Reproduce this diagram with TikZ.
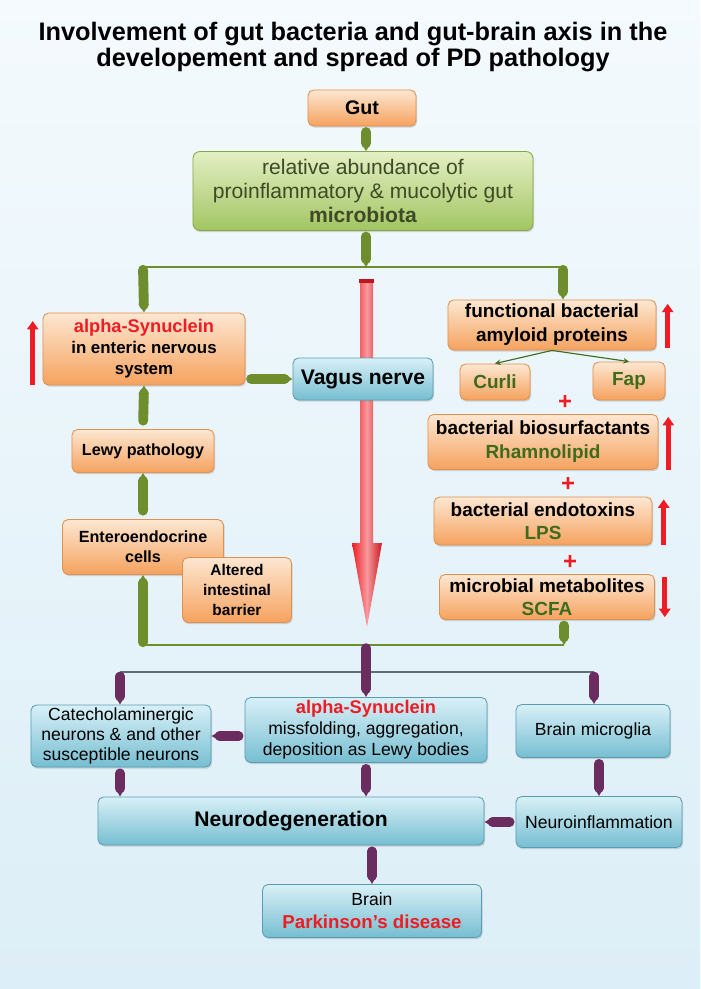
\documentclass[tikz,border=0pt]{standalone}
\usepackage{fontspec}
\setmainfont{Liberation Sans}
\usepackage{xcolor}
\usepackage{tikz}
\usetikzlibrary{arrows.meta,shadows,positioning}

\definecolor{otop}{HTML}{FDE7D2}
\definecolor{obot}{HTML}{F5A25E}
\definecolor{oedge}{HTML}{E0904F}
\definecolor{btop}{HTML}{D8F0F7}
\definecolor{bbot}{HTML}{76BED1}
\definecolor{bedge}{HTML}{5A9DB3}
\definecolor{grtop}{HTML}{E4EFC4}
\definecolor{grbot}{HTML}{A2C562}
\definecolor{gredge}{HTML}{86A843}
\definecolor{conngreen}{HTML}{6E8E2E}
\definecolor{connpurple}{HTML}{6B2D5F}
\definecolor{linegrey}{HTML}{5E6D78}
\definecolor{pdred}{HTML}{EE1C25}
\definecolor{txtgreen}{HTML}{3E6B1C}
\definecolor{txtolive}{HTML}{3F4A26}
\definecolor{bgtop}{HTML}{F4FAFD}
\definecolor{bgbot}{HTML}{DCEEF7}

\begin{document}
\begin{tikzpicture}[x=0.025cm, y=-0.025cm,
  obox/.style={draw=oedge, line width=0.6pt, rounded corners=4pt, top color=otop, bottom color=obot,
    drop shadow={opacity=0.3,shadow xshift=0.8pt,shadow yshift=-1.2pt}, align=center, inner sep=1pt,
    text=black, font=\bfseries\fontsize{11.5}{14.5}\selectfont},
  bbox/.style={draw=bedge, line width=0.6pt, rounded corners=4pt, top color=btop, bottom color=bbot,
    drop shadow={opacity=0.3,shadow xshift=0.8pt,shadow yshift=-1.2pt}, align=center, inner sep=1pt,
    text=black, font=\fontsize{12.5}{14.5}\selectfont},
  gbox/.style={draw=gredge, line width=0.6pt, rounded corners=5pt, top color=grtop, bottom color=grbot,
    drop shadow={opacity=0.3,shadow xshift=0.8pt,shadow yshift=-1.2pt}, align=center, inner sep=1pt,
    text=txtolive, font=\fontsize{15}{17}\selectfont},
  gcon/.style={draw=conngreen, line width=7pt, line cap=round, -{Triangle[length=6pt,width=7pt]}},
  pcon/.style={draw=connpurple, line width=6.5pt, line cap=round, -{Triangle[length=6pt,width=6.5pt]}},
  gline/.style={draw=conngreen, line width=1.8pt},
  pline/.style={draw=linegrey, line width=1.5pt},
  rarr/.style={draw=pdred, line width=3.5pt, -{Triangle[length=6pt,width=8pt]}},
  plus/.style={text=pdred, font=\bfseries\fontsize{17}{17}\selectfont, inner sep=0pt}]

\useasboundingbox (0,0) rectangle (700,989);
\fill[top color=bgtop, bottom color=bgbot] (0,0) rectangle (700,989);

\node[font=\bfseries\fontsize{18}{17.8}\selectfont, align=center] (title) at (353,47)
  {Involvement of gut bacteria and gut-brain axis in the\\ developement and spread of PD pathology};

% gut side
\node[obox, font=\bfseries\fontsize{14}{16}\selectfont, minimum width=2.7cm, minimum height=0.9cm] (gut) at (362,108) {Gut};
\node[gbox, minimum width=8.5cm, minimum height=1.975cm] (micro) at (363,191)
  {relative abundance of\\ proinflammatory \& mucolytic gut\\ \textbf{microbiota}};

\coordinate (jtop) at (366,267);
\coordinate (jl) at (143,267);
\coordinate (jr) at (563,267);
\coordinate (jbl) at (143,645);
\coordinate (jbr) at (564,645);
\coordinate (jbc) at (366,645);
\draw[gline] (jl) -- (jr);
\draw[gline] (jbl) -- (jbr);

% big arrow through the vagus nerve
\shade[left color=pdred, right color=pdred!85!black, middle color=pdred!45!white]
  (360,281) -- (373,281) -- (373,543) -- (382,543) -- (367,627) -- (352,543) -- (360,543) -- cycle;
\fill[pdred!80!black] (359,279) rectangle (374,283);

\node[obox, font=\bfseries\fontsize{12}{15}\selectfont, minimum width=5.05cm, minimum height=1.8cm] (asyn) at (144,349)
  {{\color{pdred}\fontsize{13}{15}\selectfont alpha-Synuclein}\\ in enteric nervous\\ system};
\node[bbox, font=\bfseries\fontsize{15}{17}\selectfont, minimum width=3.5cm, minimum height=1.05cm] (vagus) at (363,379) {Vagus nerve};
\node[obox, minimum width=3.55cm, minimum height=1.075cm] (lewy) at (143,451) {Lewy pathology};
\node[obox, minimum width=4.025cm, minimum height=1.375cm] (entero) at (143,547) {Enteroendocrine\\ cells};
\node[obox, font=\bfseries\fontsize{11}{14}\selectfont, minimum width=2.725cm, minimum height=1.625cm] (barrier) at (237,590) {Altered\\ intestinal\\ barrier};

% bacterial products
\node[obox, font=\bfseries\fontsize{13.5}{17}\selectfont, minimum width=5.2cm, minimum height=1.25cm] (func) at (552,325)
  {functional bacterial\\ amyloid proteins};
\node[obox, text=txtgreen, font=\bfseries\fontsize{13.5}{16}\selectfont, minimum width=1.75cm, minimum height=0.9cm] (curli) at (495,382) {Curli};
\node[obox, text=txtgreen, font=\bfseries\fontsize{13.5}{16}\selectfont, minimum width=1.8cm, minimum height=0.95cm] (fap) at (629,381) {Fap};
\node[obox, font=\bfseries\fontsize{13.5}{17}\selectfont, minimum width=5.75cm, minimum height=1.375cm] (bios) at (543,442)
  {bacterial biosurfactants\\ {\color{txtgreen}Rhamnolipid}};
\node[obox, font=\bfseries\fontsize{13.5}{16.5}\selectfont, minimum width=5.45cm, minimum height=1.2cm] (endo) at (543,521)
  {bacterial endotoxins\\ {\color{txtgreen}LPS}};
\node[obox, font=\bfseries\fontsize{13.5}{16.5}\selectfont, minimum width=5.375cm, minimum height=1.125cm] (meta) at (547,597)
  {microbial metabolites\\ {\color{txtgreen}SCFA}};
\node[plus] (plusa) at (565,402) {+};
\node[plus] (plusb) at (568,484) {+};
\node[plus] (plusc) at (570,562) {+};

\draw[-{Stealth[length=4pt,width=4pt]}, draw=txtgreen, line width=0.8pt] (func.south) -- (curli.north);
\draw[-{Stealth[length=4pt,width=4pt]}, draw=txtgreen, line width=0.8pt] (func.south) -- (fap.north);

\draw[rarr] ([xshift=-7pt]asyn.south west) -- ([xshift=-7pt,yshift=-6pt]asyn.north west);
\draw[rarr] ([xshift=8pt,yshift=2pt]func.south east) -- ([xshift=8pt,yshift=-3pt]func.north east);
\draw[rarr] ([xshift=7pt]bios.south east) -- ([xshift=7pt,yshift=-2pt]bios.north east);
\draw[rarr] ([xshift=8pt]endo.south east) -- ([xshift=8pt,yshift=-2pt]endo.north east);
\draw[rarr] ([xshift=7pt,yshift=-2pt]meta.north east) -- ([xshift=7pt,yshift=2pt]meta.south east);

% green connectors
\draw[gcon, shorten <=4pt] (gut.south -| jtop) -- (micro.north -| jtop);
\draw[gcon, shorten <=4pt] (micro.south -| jtop) -- (jtop);
\draw[gcon, shorten <=2pt] (jl) -- (asyn.north);
\draw[gcon, shorten <=2pt] (jr) -- (func.north -| jr);
\draw[gcon, shorten <=4pt] (asyn.east |- vagus.west) -- (vagus.west);
\draw[gcon, shorten <=6pt] (lewy.north) -- (asyn.south);
\draw[gcon, shorten <=6pt] (entero.north) -- (lewy.south);
\draw[gcon, shorten <=2pt] (jbl) -- (entero.south);
\draw[gcon, shorten <=4pt] (meta.south -| jbr) -- (jbr);

% brain side
\coordinate (pl) at (120,672);
\coordinate (pr) at (594,672);
\draw[pline] (pl) -- (pr);

\node[bbox, minimum width=4.5cm, minimum height=1.55cm] (catech) at (121,736)
  {Catecholaminergic\\ neurons \& and other\\ susceptible neurons};
\node[bbox, font=\fontsize{12.5}{15}\selectfont, minimum width=6.05cm, minimum height=1.625cm] (asyn2) at (366,730)
  {{\bfseries\color{pdred}\fontsize{13}{15}\selectfont alpha-Synuclein}\\ missfolding, aggregation,\\ deposition as Lewy bodies};
\node[bbox, minimum width=3.85cm, minimum height=1.325cm] (glia) at (593,731) {Brain microglia};
\node[bbox, font=\bfseries\fontsize{15}{17}\selectfont, minimum width=9.65cm, minimum height=1.2cm] (neuro) at (291,821) {Neurodegeneration};
\node[bbox, minimum width=4.15cm, minimum height=1.275cm] (inflam) at (599,822) {Neuroinflammation};
\node[bbox, font=\fontsize{12.5}{16.5}\selectfont, minimum width=5.475cm, minimum height=1.325cm] (brain) at (372,911)
  {Brain\\ {\bfseries\color{pdred}\fontsize{13.3}{16.5}\selectfont Parkinson's disease}};

% purple connectors
\draw[pcon, shorten <=2pt] (jbc) -- (asyn2.north);
\draw[pcon, shorten <=3pt] (pl) -- (catech.north -| pl);
\draw[pcon, shorten <=3pt] (pr) -- (glia.north -| pr);
\draw[pcon, shorten <=4pt] (asyn2.west |- catech.east) -- (catech.east);
\draw[pcon, shorten <=4pt] (catech.south -| pl) -- (neuro.north -| pl);
\draw[pcon, shorten <=4pt] (asyn2.south) -- (asyn2.south |- neuro.north);
\draw[pcon, shorten <=4pt] (glia.south -| inflam.north) -- (inflam.north);
\draw[pcon, shorten <=4pt] (inflam.west) -- (neuro.east |- inflam.west);
\draw[pcon, shorten <=4pt] (neuro.south -| brain.north) -- (brain.north);
\end{tikzpicture}
\end{document}
